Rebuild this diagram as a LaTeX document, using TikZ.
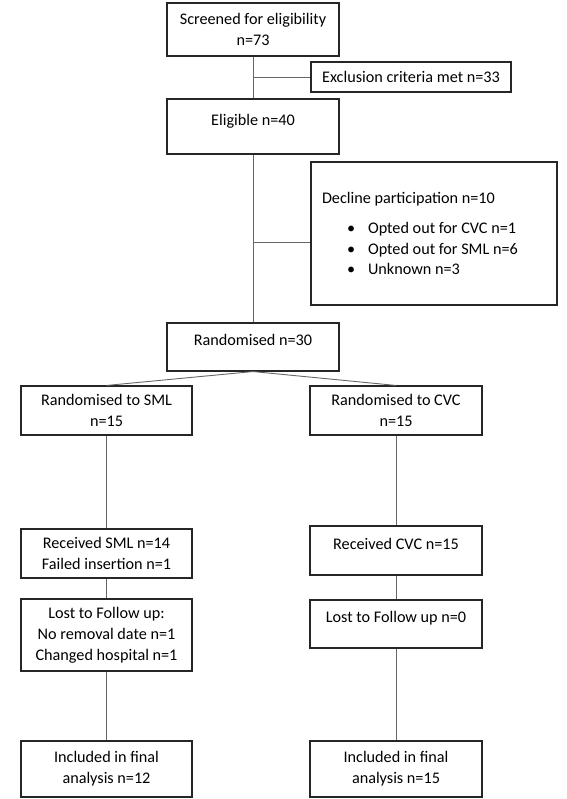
\documentclass[tikz,border=0pt]{standalone}
\usepackage{fontspec}
\setmainfont{Carlito}

\begin{document}
\begin{tikzpicture}[x=1pt,y=-1pt,
  box/.style={draw=black!85,line width=1.1pt,align=center,inner sep=0pt,
    font=\fontsize{16.2}{21}\selectfont},
  wide/.style={minimum width=172pt},
  oneline/.style={text depth=14pt},
  link/.style={draw=black!60,line width=0.9pt}]
\useasboundingbox (0,0) rectangle (566,799);

\node[box,wide,minimum height=53pt] (a) at (253,29.5) {Screened for eligibility\\n=73};
\node[box,minimum width=200pt,minimum height=30pt] (b) at (411,77) {Exclusion criteria met n=33};
\node[box,wide,minimum height=55pt,oneline] (c) at (253,126.5) {Eligible n=40};
\node[box,minimum width=246pt,minimum height=143pt,align=flush left,text width=224pt,
  font=\fontsize{16.2}{20.3}\selectfont] (d) at (434,233.5)
  {Decline participation n=10\\[10pt]
   \hspace*{25pt}\textbullet\hspace{13pt}Opted out for CVC n=1\\
   \hspace*{25pt}\textbullet\hspace{13pt}Opted out for SML n=6\\
   \hspace*{25pt}\textbullet\hspace{13pt}Unknown n=3};
\node[box,wide,minimum height=48pt,oneline] (e) at (253,347) {Randomised n=30};
\node[box,minimum width=171pt,minimum height=49pt] (f) at (106.5,410.5) {Randomised to SML\\n=15};
\node[box,wide,minimum height=49pt] (g) at (396,410.5) {Randomised to CVC\\n=15};
\node[box,minimum width=171pt,minimum height=49pt] (h) at (106.5,553.5) {Received SML n=14\\Failed insertion n=1};
\node[box,wide,minimum height=49pt,oneline] (i) at (396,550.5) {Received CVC n=15};
\node[box,minimum width=171pt,minimum height=72pt] (j) at (106.5,635) {Lost to Follow up:\\No removal date n=1\\Changed hospital n=1};
\node[box,wide,minimum height=48pt,oneline] (k) at (396,624) {Lost to Follow up n=0};
\node[box,minimum width=171pt,minimum height=56pt] (l) at (106.5,769) {Included in final\\analysis n=12};
\node[box,wide,minimum height=56pt] (m) at (396,769) {Included in final\\analysis n=15};

\coordinate (x) at (a.south |- b.west);
\coordinate (y) at (254,242);

\path[link]
(a) edge[-] (c)
(x) edge[-] (b)
(c) edge[-] (e)
(y) edge[-] (y -| d.west)
(e.south) edge[-] (f.north)
(e.south) edge[-] (g.north)
(f) edge[-] (h)
(g) edge[-] (i)
(h) edge[-] (j)
(i) edge[-] (k)
(j) edge[-] (l)
(k) edge[-] (m);
\end{tikzpicture}
\end{document}
